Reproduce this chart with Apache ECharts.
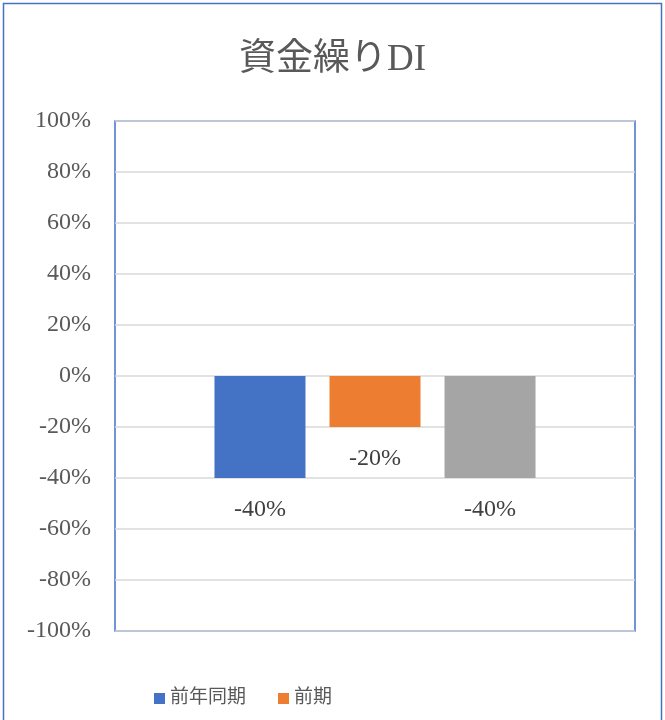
<!DOCTYPE html>
<html><head><meta charset="utf-8">
<script src="https://cdn.jsdelivr.net/npm/echarts@6/dist/echarts.min.js"></script>
<style>html,body{margin:0;padding:0;background:#fff}#c{width:665px;height:720px}</style>
</head><body><div id="c"></div>
<script>
const categories = ['資金繰りDI'];
const seriesNames = ['前年同期', '前期', '今期'];
const seriesColors = ['#4472C4', '#ED7D31', '#A5A5A5'];
const valuesPrevYear = [-40];
const valuesPrev = [-20];
const valuesCurrent = [-40];
const legendNames = ['前年同期', '前期'];

const FONT = '"Liberation Serif", "Noto Sans CJK JP", serif';
const chart = echarts.init(document.getElementById('c'));
const allValues = [valuesPrevYear, valuesPrev, valuesCurrent];
chart.setOption({
  animation: false,
  textStyle: { fontFamily: FONT },
  title: {
    text: '資金繰りDI', left: 'center', top: 37,
    textStyle: { fontFamily: FONT, fontSize: 37, fontWeight: 'normal', color: '#595959' }
  },
  graphic: [{
    type: 'rect', shape: { x: 3.5, y: 3.5, width: 658, height: 730 },
    style: { fill: 'none', stroke: '#4472C4', lineWidth: 1.5 }, silent: true
  }],
  legend: {
    data: legendNames, left: 149, top: 684, itemWidth: 11, itemHeight: 11, itemGap: 32,
    icon: 'rect',
    textStyle: { fontFamily: FONT, fontSize: 19, color: '#595959' }
  },
  grid: { left: 115, top: 121, width: 520, height: 510, show: true, borderColor: '#4472C4', borderWidth: 1.5, backgroundColor: 'transparent' },
  xAxis: {
    type: 'category', data: categories,
    axisLine: { show: false }, axisTick: { show: false }, axisLabel: { show: false }
  },
  yAxis: {
    type: 'value', min: -100, max: 100, interval: 20,
    axisLine: { show: false }, axisTick: { show: false },
    axisLabel: { formatter: v => v + '%', fontFamily: FONT, fontSize: 24, color: '#595959', margin: 24 },
    splitLine: { lineStyle: { color: '#d9d9d9', width: 1.5 } }
  },
  series: seriesNames.map((n, i) => ({
    name: n, type: 'bar', data: allValues[i], barWidth: 91, barGap: '26.4%',
    itemStyle: { color: seriesColors[i] },
    label: { show: true, position: 'bottom', distance: 20, formatter: p => p.value + '%', fontFamily: FONT, fontSize: 24, color: '#404040' }
  }))
});
</script></body></html>
